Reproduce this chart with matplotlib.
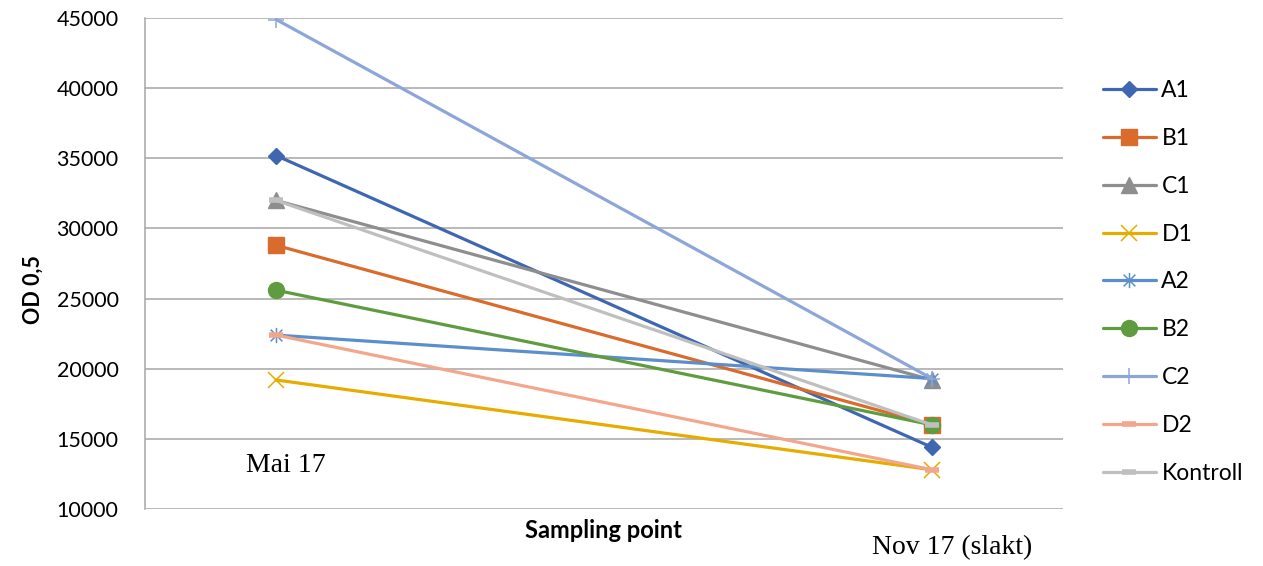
import matplotlib
matplotlib.use("Agg")
import matplotlib.pyplot as plt
from matplotlib.path import Path

# ---- data ----
sampling_points = ["Mai 17", "Nov 17 (slakt)"]
series_names = ["A1", "B1", "C1", "D1", "A2", "B2", "C2", "D2", "Kontroll"]
A1 = [35200, 14400]
B1 = [28800, 16000]
C1 = [32000, 19200]
D1 = [19200, 12800]
A2 = [22400, 19300]
B2 = [25600, 16000]
C2 = [44900, 19300]
D2 = [22400, 12800]
Kontroll = [32000, 16000]
y_ticks = [10000, 15000, 20000, 25000, 30000, 35000, 40000, 45000]

values = [A1, B1, C1, D1, A2, B2, C2, D2, Kontroll]

colors = ["#3F67B1", "#D96C2C", "#8E8E8E", "#E6AC00", "#5A8FCB",
          "#5F9B3F", "#8DA6DA", "#F2A78C", "#BFBFBF"]

star = Path([(-1, -1), (1, 1), (-1, 1), (1, -1), (0, -1.3), (0, 1.3)],
            [Path.MOVETO, Path.LINETO, Path.MOVETO, Path.LINETO, Path.MOVETO, Path.LINETO])

styles = [
    dict(marker="D", ms=8.5, mew=1),
    dict(marker="s", ms=11, mew=1),
    dict(marker="^", ms=11, mew=1),
    dict(marker="x", ms=11, mew=1.1),
    dict(marker=star, ms=11, mew=1.1),
    dict(marker="o", ms=11.5, mew=1),
    dict(marker="+", ms=12, mew=1.1),
    dict(marker="_", ms=10, mew=4),
    dict(marker="_", ms=10, mew=4),
]

plt.rcParams['font.family'] = ['Lato', 'DejaVu Sans']

fig = plt.figure(figsize=(12.63, 5.66), dpi=100)
ax = fig.add_axes([0.1148, 0.1007, 0.8417 - 0.1148, 0.968 - 0.1007])

xs = list(range(len(sampling_points)))
for name, vals, col, st in zip(series_names, values, colors, styles):
    ax.plot(xs, vals, color=col, lw=2.3, label=name, mfc=col, mec=col,
            solid_capstyle="round", **st)

ax.set_xlim(-0.2, 1.2)
ax.set_ylim(10000, 45000)
ax.set_yticks(y_ticks)
ax.set_yticklabels([str(v) for v in y_ticks])
ax.set_xticks([])
ax.tick_params(axis="y", length=0, pad=19, labelsize=15.5)
ax.grid(axis="y", color="#A6A6A6", lw=1.1)
ax.set_axisbelow(True)
for s in ["top", "right", "bottom"]:
    ax.spines[s].set_visible(False)
ax.spines["left"].set_color("#A6A6A6")
ax.spines["left"].set_linewidth(1.1)

fig.text(0.0261, 0.4876, "OD 0,5", rotation=90, ha="center", va="center",
         fontsize=15.5, fontweight="bold")
fig.text(0.4774, 0.0636, "Sampling point", ha="center", va="center",
         fontsize=17, fontweight="bold")
fig.text(0.2264, 0.1784, sampling_points[0], ha="center", va="center",
         fontsize=20, family="Liberation Serif")
fig.text(0.7538, 0.0318, sampling_points[1], ha="center", va="center",
         fontsize=20, family="Liberation Serif")

fig.legend(loc="center left", bbox_to_anchor=(0.8733, 0.5018), frameon=False,
           fontsize=16.5, handlelength=2.3, handletextpad=0.25, labelspacing=1.17,
           borderpad=0, borderaxespad=0)

fig.savefig("out.png", dpi=100)
